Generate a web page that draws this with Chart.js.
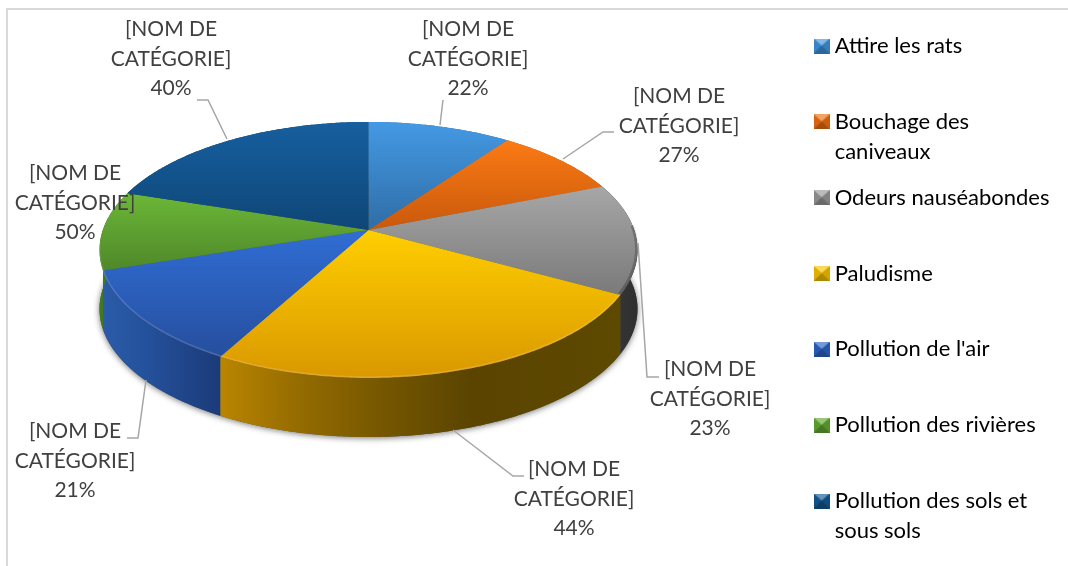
<!DOCTYPE html>
<html lang="fr">
<head>
  <meta charset="UTF-8">
  <title>Nuisances</title>
  <script src="https://cdn.jsdelivr.net/npm/chart.js"></script>
  <style>
    * { margin: 0; padding: 0; box-sizing: border-box; }
    body { background: #fff; width: 1068px; height: 566px; overflow: hidden; position: relative; }
    /* cadre du graphique : seulement haut et gauche sont visibles */
    #frame { position: absolute; left: 6px; top: 8px; width: 1070px; height: 570px; border: 2px solid #d9d9d9; }
    canvas { position: absolute; left: 0; top: 0; }
  </style>
</head>
<body>
  <div id="frame"></div>
  <canvas id="pie" width="1068" height="566"></canvas>

  <script>
    // Donnees
    const categories = ['Attire les rats', 'Bouchage des caniveaux', 'Odeurs nauséabondes', 'Paludisme',
      'Pollution de l\'air', 'Pollution des rivières', 'Pollution des sols et sous sols'];
    const legendLines = [['Attire les rats', ''], ['Bouchage des', 'caniveaux'], ['Odeurs nauséabondes', ''], ['Paludisme', ''],
      ['Pollution de l\'air', ''], ['Pollution des rivières', ''], ['Pollution des sols et', 'sous sols']];
    const sliceValues = [10, 9, 14, 25, 12, 10, 20];
    const labelPercents = [22, 27, 23, 44, 21, 50, 40];
    const labelName = ['[NOM DE', 'CATÉGORIE]'];

    const baseColors = ['#4094dc', '#ee6f12', '#999999', '#f7c200', '#2c64c6', '#62aa33', '#145a96'];

    // Styles : degrade du dessus [couleur haut, couleur bas, y haut, y bas]
    const topShades = [
      ['#4499e4', '#2f6da6', 122, 230],
      ['#fb7a14', '#c9590c', 140, 230],
      ['#a6a6a6', '#7a7a7a', 188, 294],
      ['#ffce00', '#d99800', 230, 378],
      ['#306dd4', '#264f9e', 230, 356],
      ['#6bb637', '#4f8829', 195, 270],
      ['#175fa0', '#0e4676', 122, 230]
    ];
    // Styles : degrade de la tranche [x, couleur]
    const sideShades = [
      [[100, '#2a6aa0'], [637, '#2a6aa0']],
      [[100, '#a84e0c'], [637, '#a84e0c']],
      [[600, '#3a3a3a'], [637, '#2f2f30']],
      [[222, '#b98500'], [300, '#946b00'], [370, '#7a5a00'], [470, '#5a4400'], [620, '#5e4900']],
      [[100, '#2b5ca9'], [150, '#24509a'], [222, '#1b3a78']],
      [[100, '#3f7a22'], [110, '#3f7a22']],
      [[100, '#0e4676'], [637, '#0e4676']]
    ];
    // Position des etiquettes [x centre, y premiere ligne] et des traits de rappel
    const labelSpots = [[468, 29], [679, 96], [710, 369], [574, 469], [75, 431], [75, 173], [171, 29]];
    const leaderPaths = [
      [[443, 100], [440, 125]],
      [[614, 132], [603, 132], [563, 159]],
      [[638, 243], [647, 377], [659, 377]],
      [[453, 430], [513, 476], [524, 476]],
      [[127, 438], [138, 438], [146, 380]],
      [],
      [[197, 100], [208, 100], [227, 139]]
    ];

    // Vue en perspective du disque
    const view = { cx: 368.5, cy: 230, rx: 265.7, ry: 124.9, k: 0.156, depth: 59 };

    function project(a) {
      const u = Math.cos(a), v = Math.sin(a), w = 1 - view.k * v;
      return [view.cx + view.rx * u / w, view.cy + view.ry * v / w];
    }

    function rimPoints(start, end) {
      const pts = [], n = Math.max(2, Math.ceil((end - start) / 0.01));
      for (let i = 0; i <= n; i++) pts.push(project(start + (end - start) * i / n));
      return pts;
    }

    function gradientFromStops(ctx, stops) {
      const x0 = stops[0][0], x1 = stops[stops.length - 1][0];
      const g = ctx.createLinearGradient(x0, 0, x1, 0);
      stops.forEach(s => g.addColorStop((s[0] - x0) / (x1 - x0), s[1]));
      return g;
    }

    // Petit carre biseaute de la legende
    function bevelIcon(color) {
      const c = document.createElement('canvas');
      c.width = 16; c.height = 15;
      const g = c.getContext('2d');
      g.fillStyle = color;
      g.fillRect(0, 0, 16, 15);
      const tri = (pts, fill) => {
        g.fillStyle = fill;
        g.beginPath();
        pts.forEach((p, i) => i ? g.lineTo(p[0], p[1]) : g.moveTo(p[0], p[1]));
        g.closePath();
        g.fill();
      };
      tri([[0, 0], [16, 0], [8, 7]], 'rgba(255,255,255,0.35)');
      tri([[0, 15], [16, 15], [8, 7]], 'rgba(0,0,0,0.3)');
      tri([[0, 0], [0, 15], [8, 7]], 'rgba(0,0,0,0.1)');
      tri([[16, 0], [16, 15], [8, 7]], 'rgba(0,0,0,0.15)');
      return c;
    }

    const pie3d = {
      id: 'pie3d',
      beforeDatasetsDraw(chart) {
        const ctx = chart.ctx;
        const arcs = chart.getDatasetMeta(0).data;
        ctx.save();

        // ombre sous le disque
        ctx.save();
        ctx.shadowColor = 'rgba(0,0,0,0.55)';
        ctx.shadowBlur = 6;
        ctx.shadowOffsetY = 1;
        ctx.fillStyle = '#555';
        ctx.beginPath();
        rimPoints(0, Math.PI * 2).forEach((p, i) => i ? ctx.lineTo(p[0], p[1] + view.depth) : ctx.moveTo(p[0], p[1] + view.depth));
        ctx.closePath();
        ctx.fill();
        ctx.restore();

        // tranches
        arcs.forEach((arc, i) => {
          const pts = rimPoints(arc.startAngle, arc.endAngle);
          ctx.beginPath();
          pts.forEach((p, j) => j ? ctx.lineTo(p[0], p[1]) : ctx.moveTo(p[0], p[1]));
          pts.slice().reverse().forEach(p => ctx.lineTo(p[0], p[1] + view.depth));
          ctx.closePath();
          ctx.fillStyle = gradientFromStops(ctx, sideShades[i]);
          ctx.fill();
        });

        // dessus des parts
        arcs.forEach((arc, i) => {
          const s = topShades[i];
          const g = ctx.createLinearGradient(0, s[2], 0, s[3]);
          g.addColorStop(0, s[0]);
          g.addColorStop(1, s[1]);
          ctx.beginPath();
          ctx.moveTo(view.cx, view.cy);
          rimPoints(arc.startAngle, arc.endAngle).forEach(p => ctx.lineTo(p[0], p[1]));
          ctx.closePath();
          ctx.fillStyle = g;
          ctx.fill();
        });

        // biseau sombre sur le bord droit de la part grise
        ctx.beginPath();
        rimPoints(arcs[2].startAngle + 0.35, arcs[2].endAngle).forEach((p, j) => j ? ctx.lineTo(p[0] - 1, p[1] - 1) : ctx.moveTo(p[0] - 1, p[1] - 1));
        ctx.strokeStyle = 'rgba(0,0,0,0.22)';
        ctx.lineWidth = 3;
        ctx.stroke();

        // liseré clair sur le bord avant
        arcs.forEach(arc => {
          const a0 = Math.max(arc.startAngle, 0.5), a1 = Math.min(arc.endAngle, Math.PI - 0.1);
          if (a1 <= a0) return;
          ctx.beginPath();
          rimPoints(a0, a1).forEach((p, j) => j ? ctx.lineTo(p[0], p[1] - 1) : ctx.moveTo(p[0], p[1] - 1));
          ctx.strokeStyle = 'rgba(255,255,255,0.15)';
          ctx.lineWidth = 1.5;
          ctx.stroke();
        });
        ctx.restore();
      },
      // les arcs plats du pie sont remplaces par la vue ci-dessus
      beforeDatasetDraw() { return false; },
      afterDraw(chart) {
        const ctx = chart.ctx;
        ctx.save();
        ctx.strokeStyle = '#a6a6a6';
        ctx.lineWidth = 1.5;
        leaderPaths.forEach(path => {
          if (!path.length) return;
          ctx.beginPath();
          path.forEach((p, i) => i ? ctx.lineTo(p[0], p[1]) : ctx.moveTo(p[0], p[1]));
          ctx.stroke();
        });
        ctx.fillStyle = '#404040';
        ctx.font = '21px Lato';
        ctx.textAlign = 'center';
        ctx.textBaseline = 'middle';
        labelPercents.forEach((pct, i) => {
          const [x, y] = labelSpots[i];
          ctx.fillText(labelName[0], x, y);
          ctx.fillText(labelName[1], x, y + 30);
          ctx.fillText(pct + '%', x, y + 59);
        });
        ctx.restore();
      }
    };

    new Chart(document.getElementById('pie'), {
      type: 'pie',
      data: {
        labels: categories,
        datasets: [{ data: sliceValues, backgroundColor: baseColors, borderWidth: 0 }]
      },
      plugins: [pie3d],
      options: {
        responsive: false,
        animation: false,
        layout: { padding: { top: 19, right: 8.5 } },
        plugins: {
          tooltip: { enabled: false },
          legend: {
            position: 'right',
            align: 'start',
            labels: {
              color: '#595959',
              font: { family: 'Lato', size: 22, lineHeight: 1.36 },
              padding: 16,
              boxWidth: 4,
              usePointStyle: true,
              generateLabels: () => categories.map((c, i) => ({
                text: legendLines[i],
                fillStyle: baseColors[i],
                pointStyle: bevelIcon(baseColors[i]),
                lineWidth: 0,
                hidden: false,
                index: i
              }))
            }
          }
        }
      }
    });
  </script>
</body>
</html>
